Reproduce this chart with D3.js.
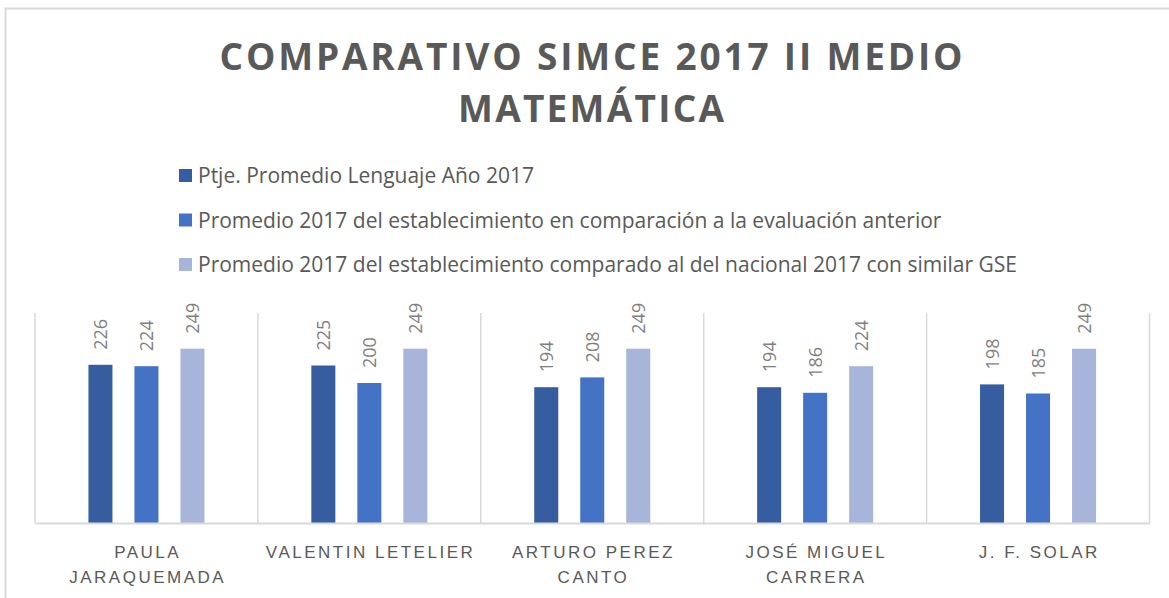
<!DOCTYPE html>
<html>
<head>
<meta charset="utf-8">
<script src="https://cdn.jsdelivr.net/npm/d3@7"></script>
<style>
    body { margin: 0; background: #fff; }
    svg { display: block; font-family: "Open Sans", sans-serif; }
</style>
</head>
<body>
<svg width="1169" height="598"></svg>
<script>
// Datos del gráfico
const colegios = ["PAULA JARAQUEMADA", "VALENTIN LETELIER", "ARTURO PEREZ CANTO", "JOSÉ MIGUEL CARRERA", "J. F. SOLAR"];
const etiquetasEje = [["PAULA", "JARAQUEMADA"], ["VALENTIN LETELIER"], ["ARTURO PEREZ", "CANTO"], ["JOSÉ MIGUEL", "CARRERA"], ["J. F. SOLAR"]];
const series = [
    "Ptje. Promedio Lenguaje Año 2017",
    "Promedio 2017 del establecimiento en comparación a la evaluación anterior",
    "Promedio 2017 del establecimiento comparado al del nacional 2017 con similar GSE"
];
const ptjeLenguaje = [226, 225, 194, 194, 198];
const promEvalAnterior = [224, 200, 208, 186, 185];
const promNacionalGSE = [249, 249, 249, 224, 249];
const colores = ["#355D9F", "#4472C4", "#A8B5DB"];
const tituloLineas = ["COMPARATIVO SIMCE 2017 II MEDIO", "MATEMÁTICA"];

const valores = [ptjeLenguaje, promEvalAnterior, promNacionalGSE];
const svg = d3.select("svg");

// Borde del gráfico
svg.append("rect")
    .attr("x", 5.5).attr("y", 8.5)
    .attr("width", 1180).attr("height", 600)
    .attr("fill", "#fff")
    .attr("stroke", "#d9d9d9")
    .attr("stroke-width", 2);

// Título
const anchos = [743, 266];
svg.selectAll(".titulo")
    .data(tituloLineas)
    .enter()
    .append("text")
    .attr("class", "titulo")
    .attr("x", 591)
    .attr("y", (d, i) => 70 + i * 52)
    .attr("text-anchor", "middle")
    .attr("textLength", (d, i) => anchos[i])
    .attr("lengthAdjust", "spacing")
    .style("font-size", "37px")
    .style("font-weight", "bold")
    .style("fill", "#595959")
    .text(d => d);

// Leyenda
const leyenda = svg.append("g").attr("transform", "translate(179, 169)");
const itemsLeyenda = leyenda.selectAll(".item")
    .data(series)
    .enter()
    .append("g")
    .attr("class", "item")
    .attr("transform", (d, i) => "translate(0," + (i * 44.5) + ")");

itemsLeyenda.append("rect")
    .attr("width", 13)
    .attr("height", 13)
    .style("fill", (d, i) => colores[i]);

itemsLeyenda.append("text")
    .attr("x", 19)
    .attr("y", 14)
    .style("font-size", "21px")
    .style("fill", "#595959")
    .text(d => d);

// Escalas
const x = d3.scaleBand().domain(colegios).range([35, 1149.5]).padding(0);
const xSerie = d3.scaleBand()
    .domain(d3.range(series.length))
    .range([x.bandwidth() / 2 - 80, x.bandwidth() / 2 + 80])
    .paddingInner(0.478)
    .paddingOuter(0.478);
const y = d3.scaleLinear().domain([0, 300]).range([523, 313]);

// Líneas de división verticales
const bordes = colegios.map(c => x(c)).concat([x.range()[1]]);
svg.append("g")
    .selectAll("line")
    .data(bordes)
    .enter()
    .append("line")
    .attr("x1", d => d).attr("x2", d => d)
    .attr("y1", y(300)).attr("y2", y(0))
    .attr("stroke", "#d9d9d9")
    .attr("stroke-width", 1.5);

// Barras
const grupos = svg.append("g")
    .selectAll("g")
    .data(colegios)
    .enter()
    .append("g")
    .attr("transform", d => "translate(" + x(d) + ",0)");

const barras = grupos.selectAll(".barra")
    .data((d, i) => valores.map((v, s) => ({ serie: s, valor: v[i] })))
    .enter();

barras.append("rect")
    .attr("x", d => xSerie(d.serie))
    .attr("y", d => y(d.valor))
    .attr("width", xSerie.bandwidth())
    .attr("height", d => y(0) - y(d.valor))
    .style("fill", d => colores[d.serie]);

// Etiquetas de valor (rotadas)
barras.append("text")
    .attr("transform", d => "translate(" + (xSerie(d.serie) + xSerie.bandwidth() / 2) + "," + (y(d.valor) - 15) + ") rotate(-90)")
    .attr("dy", "0.36em")
    .style("font-size", "18px")
    .style("fill", "#7f7f7f")
    .text(d => d.valor);

// Eje X
const ejeX = svg.append("g")
    .attr("transform", "translate(0," + y(0) + ")")
    .call(d3.axisBottom(x).tickSize(0).tickFormat(""));
ejeX.select(".domain").attr("stroke", "#d9d9d9").attr("stroke-width", 2);

ejeX.selectAll(".tick text").remove();
ejeX.selectAll(".tick")
    .append("text")
    .attr("text-anchor", "middle")
    .style("font-size", "17px")
    .style("letter-spacing", "2.5px")
    .style("fill", "#595959")
    .selectAll("tspan")
    .data((d, i) => etiquetasEje[i])
    .enter()
    .append("tspan")
    .attr("x", 1.2)
    .attr("y", (d, i) => 35 + i * 25)
    .text(d => d);
</script>
</body>
</html>
